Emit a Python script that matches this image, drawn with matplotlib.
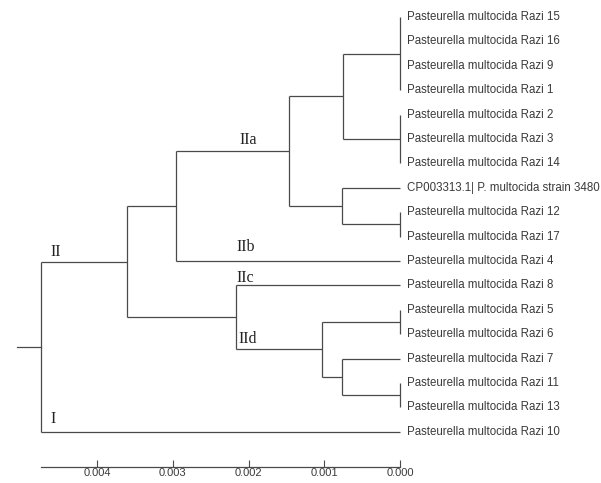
import matplotlib
matplotlib.use("Agg")
import matplotlib.pyplot as plt

# leaf labels, top to bottom
leaves = [
    "Pasteurella multocida Razi 15",
    "Pasteurella multocida Razi 16",
    "Pasteurella multocida Razi 9",
    "Pasteurella multocida Razi 1",
    "Pasteurella multocida Razi 2",
    "Pasteurella multocida Razi 3",
    "Pasteurella multocida Razi 14",
    "CP003313.1| P. multocida strain 3480",
    "Pasteurella multocida Razi 12",
    "Pasteurella multocida Razi 17",
    "Pasteurella multocida Razi 4",
    "Pasteurella multocida Razi 8",
    "Pasteurella multocida Razi 5",
    "Pasteurella multocida Razi 6",
    "Pasteurella multocida Razi 7",
    "Pasteurella multocida Razi 11",
    "Pasteurella multocida Razi 13",
    "Pasteurella multocida Razi 10",
]

# internal nodes: name, distance from tips, children (leaf index or node name)
node_names = ["n15_1", "n2_14", "n12_17", "up", "low", "IIa", "IIab",
              "n5_6", "n11_13", "n7", "IId", "IIcd", "II", "root"]
node_heights = [0.0, 0.0, 0.0, 0.00075, 0.00077, 0.00147, 0.00296,
                0.0, 0.0, 0.00077, 0.00103, 0.00217, 0.00361, 0.00474]
node_children = [[0, 1, 2, 3], [4, 5, 6], [8, 9], ["n15_1", "n2_14"],
                 [7, "n12_17"], ["up", "low"], ["IIa", 10],
                 [12, 13], [15, 16], [14, "n11_13"], ["n5_6", "n7"],
                 [11, "IId"], ["IIab", "IIcd"], ["II", 17]]

scale_ticks = [0.004, 0.003, 0.002, 0.001, 0.000]

line_col = "#4a4a4a"
text_col = "#3a3a3a"

fig = plt.figure(figsize=(6.01, 4.83), dpi=100)
ax = fig.add_axes([0, 0, 1, 1])

pos = {}
for i, name in enumerate(leaves):
    pos[i] = (0.0, float(i))

for name, h, kids in zip(node_names, node_heights, node_children):
    ys = [pos[k][1] for k in kids]
    y = (min(ys) + max(ys)) / 2
    ax.plot([h, h], [min(ys), max(ys)], color=line_col, lw=0.9,
            solid_capstyle="butt")
    for k in kids:
        kx, ky = pos[k]
        ax.plot([h, kx], [ky, ky], color=line_col, lw=0.9,
                solid_capstyle="butt")
    pos[name] = (h, y)

# root stub
rx, ry = pos["root"]
ax.plot([rx, rx + 0.00032], [ry, ry], color=line_col, lw=0.9)

for i, name in enumerate(leaves):
    ax.text(-0.00009, i, name, ha="left", va="center", fontsize=8.3,
            color=text_col, family="Liberation Sans")

# clade labels
serif = dict(family="Liberation Serif", fontsize=11.5, color="#222222",
             ha="left", va="baseline")
ax.text(0.00212, pos["IIa"][1] - 0.3, "IIa", **serif)
ax.text(0.00216, 10 - 0.4, "IIb", **serif)
ax.text(0.00462, pos["II"][1] - 0.25, "II", **serif)
ax.text(0.00216, 11 - 0.15, "IIc", **serif)
ax.text(0.00213, 13.35, "IId", **serif)
ax.text(0.00462, 16.65, "I", **serif)

ax.set_xlim(0.005284, -0.002655)
ax.set_ylim(19.1, -0.697)

for s in ["top", "right", "left"]:
    ax.spines[s].set_visible(False)
ax.spines["bottom"].set_position(("data", 18.44))
ax.spines["bottom"].set_bounds(0.0, rx)
ax.spines["bottom"].set_color(line_col)
ax.spines["bottom"].set_linewidth(0.9)
ax.set_xticks(scale_ticks)
ax.set_xticklabels([f"{t:.3f}" for t in scale_ticks])
ax.tick_params(axis="x", direction="in", length=5, width=0.8,
               colors=line_col, labelsize=8, pad=1, labelcolor=text_col)
for lab in ax.get_xticklabels():
    lab.set_family("Liberation Sans")
ax.set_yticks([])

fig.savefig("out.png", dpi=100)
